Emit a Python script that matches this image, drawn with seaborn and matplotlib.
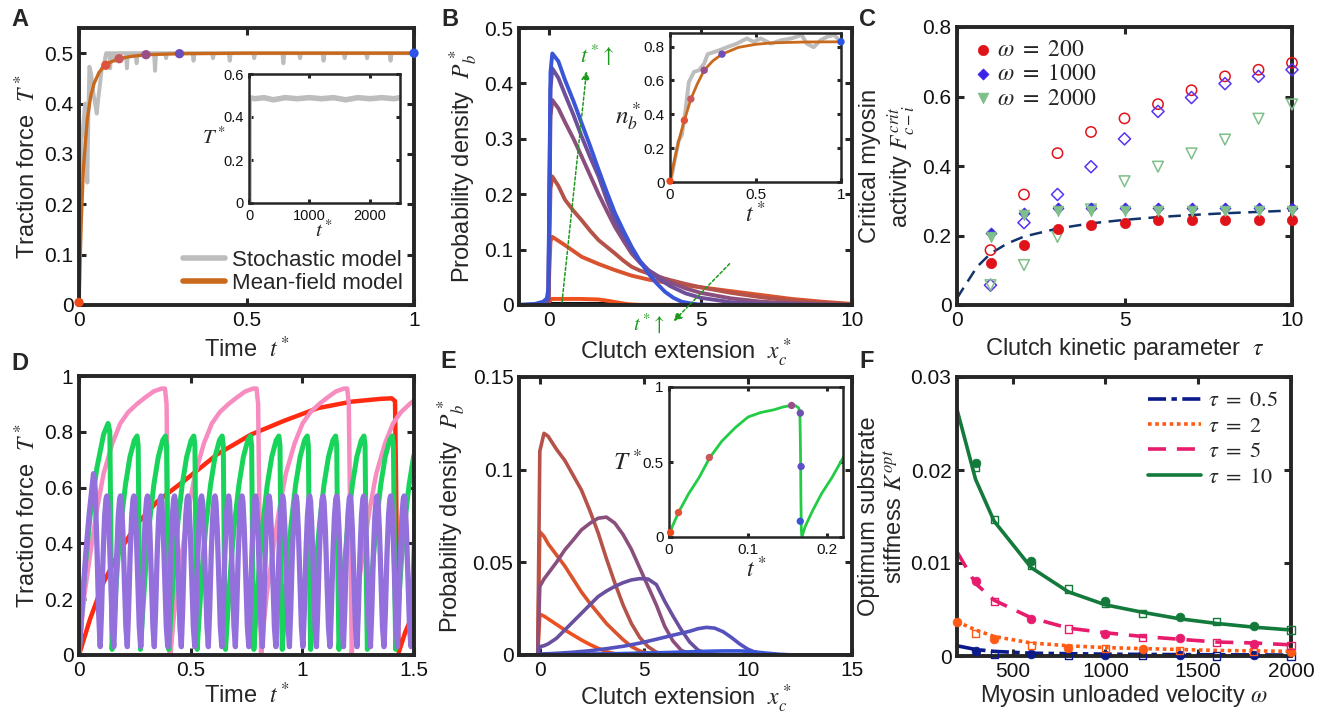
import numpy as np
import pandas as pd
import seaborn as sns
import matplotlib
matplotlib.use("Agg")
import matplotlib.pyplot as plt
from matplotlib.ticker import FuncFormatter

sns.set_theme(style="ticks")
plt.rcParams['font.family'] = ['Liberation Sans', 'DejaVu Sans']
plt.rcParams['mathtext.fontset'] = 'stix'

'''Data read off the figure'''
# A: traction force vs time
a_mf_t = [0, 0.003, 0.007, 0.013, 0.02, 0.025, 0.035, 0.045, 0.06, 0.08, 0.1, 0.12, 0.15, 0.2, 0.3, 0.5, 1.0]
a_mf_T = [0, 0.08, 0.17, 0.27, 0.33, 0.37, 0.415, 0.44, 0.462, 0.478, 0.484, 0.489, 0.493, 0.497, 0.499, 0.5, 0.5]
a_st_t = [0, 0.004, 0.008, 0.013, 0.018, 0.022, 0.025, 0.028, 0.031, 0.036, 0.043, 0.048, 0.053, 0.058, 0.063,
          0.068, 0.073, 0.078, 0.081,
          0.09, 0.093, 0.096, 0.105, 0.108, 0.111,
          0.14, 0.143, 0.146, 0.169, 0.172, 0.175, 0.224, 0.227, 0.23, 0.257, 0.26, 0.263,
          0.339, 0.342, 0.345, 0.397, 0.4, 0.403, 0.447, 0.45, 0.453, 0.52, 0.523, 0.526,
          0.607, 0.61, 0.613, 0.657, 0.66, 0.663, 0.727, 0.73, 0.733, 0.79, 0.793, 0.796,
          0.857, 0.86, 0.863, 0.927, 0.93, 0.933, 1.0]
a_st_T = [0, 0.2, 0.33, 0.36, 0.4, 0.3, 0.243, 0.38, 0.473, 0.46, 0.42, 0.4, 0.38, 0.413, 0.44,
          0.47, 0.473, 0.49, 0.5,
          0.5, 0.47, 0.5, 0.5, 0.485, 0.5,
          0.5, 0.47, 0.5, 0.5, 0.48, 0.5, 0.5, 0.465, 0.5, 0.5, 0.49, 0.5,
          0.5, 0.485, 0.5, 0.5, 0.49, 0.5, 0.5, 0.485, 0.5, 0.5, 0.49, 0.5,
          0.5, 0.48, 0.5, 0.5, 0.49, 0.5, 0.5, 0.485, 0.5, 0.5, 0.49, 0.5,
          0.5, 0.49, 0.5, 0.5, 0.485, 0.5, 0.5]
a_dot_t = [0, 0.08, 0.12, 0.2, 0.3, 1.0]
a_dot_T = [0.005, 0.476, 0.489, 0.497, 0.499, 0.5]
a_in_t = [0, 1, 100, 250, 400, 600, 800, 1000, 1200, 1400, 1600, 1800, 2000, 2200, 2400, 2500]
a_in_T = [0, 0.49, 0.485, 0.49, 0.48, 0.49, 0.485, 0.49, 0.485, 0.49, 0.48, 0.49, 0.485, 0.49, 0.485, 0.49]
dot_colors = ['#f04a1a', '#e0523a', '#c8585a', '#9a4f8a', '#6c4fb8', '#2a55e8']

# B: probability density profiles at increasing time (x, P) per curve
b_curves = [
    ([-1, 0, 0.05, 2.0, 2.5, 10],
     [0, 0, 0.002, 0.002, 0, 0]),
    ([-1, -0.05, 0.0, 0.05, 0.1, 0.5, 1.0, 1.63, 2.0, 2.3, 2.6, 3.0, 10],
     [0, 0, 0.006, 0.01, 0.011, 0.011, 0.011, 0.01, 0.007, 0.004, 0.0015, 0.0003, 0]),
    ([-1, -0.1, -0.03, 0.0, 0.04, 0.1, 0.52, 1.07, 1.63, 2.17, 2.72, 3.27, 4.0, 5, 6, 7, 8, 9, 10],
     [0, 0, 0.003, 0.06, 0.115, 0.123, 0.108, 0.087, 0.074, 0.063, 0.053, 0.046, 0.039, 0.032, 0.025, 0.018, 0.011, 0.006, 0.002]),
    ([-1, -0.1, -0.03, 0.0, 0.04, 0.1, 0.3, 0.52, 0.8, 1.07, 1.35, 1.63, 1.9, 2.17, 2.45, 2.72, 3.0, 3.27, 3.6, 4.0, 4.5, 5, 6, 7, 8, 9, 10],
     [0, 0, 0.005, 0.1, 0.21, 0.232, 0.215, 0.19, 0.17, 0.153, 0.134, 0.117, 0.105, 0.093, 0.08, 0.069, 0.062, 0.057, 0.051, 0.045, 0.038, 0.032, 0.022, 0.014, 0.008, 0.004, 0.001]),
    ([-1, -0.1, -0.03, 0.0, 0.04, 0.1, 0.3, 0.52, 0.8, 1.07, 1.35, 1.63, 1.9, 2.17, 2.45, 2.72, 3.0, 3.27, 3.6, 4.0, 4.5, 5, 6, 7, 8, 9, 10],
     [0, 0, 0.01, 0.15, 0.34, 0.37, 0.355, 0.33, 0.3, 0.268, 0.234, 0.2, 0.17, 0.141, 0.116, 0.093, 0.076, 0.063, 0.052, 0.041, 0.03, 0.022, 0.012, 0.006, 0.003, 0.001, 0]),
    ([-1, -0.1, -0.03, 0.0, 0.04, 0.1, 0.3, 0.52, 0.8, 1.07, 1.35, 1.63, 1.9, 2.17, 2.45, 2.72, 3.0, 3.27, 3.6, 4.0, 4.5, 5, 6, 7, 8, 10],
     [0, 0, 0.01, 0.18, 0.39, 0.427, 0.41, 0.38, 0.343, 0.304, 0.267, 0.232, 0.19, 0.153, 0.125, 0.099, 0.079, 0.063, 0.048, 0.034, 0.021, 0.013, 0.005, 0.002, 0.001, 0]),
    ([-1, -0.47, -0.2, -0.08, -0.03, 0.0, 0.04, 0.1, 0.3, 0.52, 0.8, 1.07, 1.35, 1.63, 1.9, 2.17, 2.45, 2.72, 3.0, 3.27, 3.55, 3.82, 4.1, 4.37, 4.65, 4.92, 5.5, 10],
     [0.0005, 0.002, 0.006, 0.012, 0.03, 0.2, 0.42, 0.454, 0.44, 0.406, 0.368, 0.328, 0.287, 0.244, 0.204, 0.166, 0.134, 0.105, 0.079, 0.057, 0.039, 0.024, 0.013, 0.006, 0.003, 0.001, 0, 0]),
]
b_colors = ['#111111', '#f0501e', '#d9532e', '#b5524a', '#8a4f7d', '#6f4f9a', '#3a55d6']
b_in_mf_t = [0, 0.02, 0.05, 0.084, 0.122, 0.16, 0.2, 0.25, 0.304, 0.4, 0.5, 0.6, 0.8, 1.0]
b_in_mf_n = [0, 0.1, 0.24, 0.364, 0.49, 0.58, 0.66, 0.715, 0.755, 0.795, 0.813, 0.822, 0.827, 0.828]
b_in_st_t = [0, 0.01, 0.03, 0.05, 0.07, 0.09, 0.11, 0.14, 0.17, 0.2, 0.22, 0.25, 0.28, 0.33, 0.39, 0.45,
             0.49, 0.53, 0.59, 0.65, 0.71, 0.77, 0.8, 0.84, 0.88, 0.92, 0.96, 1.0]
b_in_st_n = [0, 0.035, 0.14, 0.24, 0.28, 0.42, 0.59, 0.65, 0.66, 0.70, 0.755, 0.765, 0.775, 0.795, 0.817, 0.848,
             0.827, 0.848, 0.817, 0.837, 0.848, 0.868, 0.817, 0.796, 0.837, 0.858, 0.868, 0.827]
b_in_dot_t = [0, 0.084, 0.122, 0.2, 0.304, 1.0]
b_in_dot_n = [0.005, 0.364, 0.49, 0.66, 0.755, 0.828]

# C: critical myosin activity vs tau
c_tau = [1, 2, 3, 4, 5, 6, 7, 8, 9, 10]
c_w200_full = [0.122, 0.172, 0.22, 0.23, 0.237, 0.246, 0.246, 0.246, 0.246, 0.246]
c_w200_open = [0.158, 0.318, 0.437, 0.498, 0.537, 0.578, 0.618, 0.658, 0.677, 0.697]
c_w1000_full = [0.206, 0.266, 0.278, 0.278, 0.278, 0.278, 0.278, 0.278, 0.278, 0.278]
c_w1000_open = [0.057, 0.237, 0.318, 0.398, 0.478, 0.557, 0.597, 0.637, 0.658, 0.677]
c_w2000_full = [0.196, 0.259, 0.271, 0.271, 0.271, 0.271, 0.271, 0.271, 0.271, 0.271]
c_w2000_open = [0.057, 0.115, 0.196, 0.275, 0.356, 0.398, 0.436, 0.476, 0.536, 0.577]
c_fit_tau = [0, 0.1, 0.3, 0.6, 1, 1.5, 2, 3, 4, 5, 6, 7, 8, 9, 10]
c_fit_F = [0.019, 0.035, 0.065, 0.11, 0.148, 0.177, 0.197, 0.22, 0.235, 0.245, 0.253, 0.259, 0.264, 0.268, 0.272]

# D: oscillating traction force (read cycle shapes and cycle start times)
d_red_t = [0, 0.05, 0.11, 0.18, 0.26, 0.35, 0.48, 0.62, 0.77, 0.92, 1.07, 1.22, 1.35, 1.40, 1.415, 1.42, 1.425, 1.432, 1.46, 1.5]
d_red_T = [0, 0.13, 0.26, 0.37, 0.47, 0.55, 0.63, 0.72, 0.79, 0.84, 0.885, 0.908, 0.918, 0.92, 0.91, 0.6, 0.2, 0.01, 0.08, 0.155]
d_pink_starts = [0, 0.41, 0.816, 1.221]
d_pink_cyc_t = [0, 0.01, 0.025, 0.05, 0.08, 0.11, 0.15, 0.185, 0.22, 0.26, 0.3, 0.335, 0.37, 0.385, 0.392, 0.398, 0.405]
d_pink_cyc_T = [0, 0.1, 0.22, 0.36, 0.52, 0.65, 0.76, 0.83, 0.87, 0.9, 0.925, 0.945, 0.955, 0.955, 0.9, 0.5, 0.01]
d_green_lead_t = [0, 0.02, 0.05, 0.08, 0.11, 0.13, 0.138, 0.143, 0.148]
d_green_lead_T = [0, 0.25, 0.5, 0.67, 0.79, 0.83, 0.8, 0.4, 0.02]
d_green_starts = [0.148, 0.275, 0.402, 0.529, 0.656, 0.783, 0.91, 1.037, 1.164, 1.291, 1.418]
d_green_cyc_t = [0, 0.01, 0.025, 0.04, 0.06, 0.08, 0.1, 0.112, 0.117, 0.122, 0.127]
d_green_cyc_T = [0.02, 0.15, 0.33, 0.47, 0.61, 0.71, 0.77, 0.785, 0.75, 0.3, 0.02]
d_purple_lead_t = [0, 0.015, 0.03, 0.045, 0.058, 0.065, 0.072, 0.08, 0.088, 0.095]
d_purple_lead_T = [0, 0.18, 0.36, 0.5, 0.6, 0.65, 0.6, 0.4, 0.15, 0.03]
d_purple_starts = [0.095, 0.156, 0.216, 0.277, 0.337, 0.398, 0.458, 0.519, 0.579, 0.640, 0.700, 0.761,
                   0.821, 0.882, 0.942, 1.003, 1.063, 1.124, 1.184, 1.245, 1.305, 1.366, 1.426, 1.487]
d_purple_cyc_t = [0, 0.006, 0.013, 0.02, 0.026, 0.03, 0.034, 0.04, 0.047, 0.054, 0.0605]
d_purple_cyc_T = [0.03, 0.16, 0.36, 0.5, 0.56, 0.57, 0.55, 0.45, 0.28, 0.1, 0.03]

# E: probability density during one load-and-fail cycle (x, P) per curve
e_curves = [
    ([-1, -0.1, 0, 0.2, 0.4, 0.8, 1.2, 1.6, 2.0, 2.4, 2.8, 3.2, 3.6, 4.0, 15],
     [0, 0, 0.022, 0.021, 0.0195, 0.0165, 0.0135, 0.0108, 0.0081, 0.0057, 0.0036, 0.0018, 0.0007, 0.0002, 0]),
    ([-1, -0.1, 0, 0.2, 0.4, 0.8, 1.2, 1.6, 2.0, 2.4, 2.8, 3.2, 3.6, 4.0, 4.4, 4.8, 5.2, 5.6, 6.0, 15],
     [0, 0, 0.0665, 0.064, 0.06, 0.054, 0.048, 0.041, 0.034, 0.028, 0.0225, 0.017, 0.0126, 0.0083, 0.0046, 0.0022, 0.0008, 0.0002, 0, 0]),
    ([-1, -0.1, 0, 0.2, 0.4, 0.8, 1.2, 1.6, 2.0, 2.4, 2.8, 3.2, 3.6, 4.0, 4.4, 4.8, 5.2, 5.6, 6.0, 6.4, 15],
     [0, 0, 0.11, 0.1196, 0.118, 0.111, 0.105, 0.097, 0.089, 0.078, 0.066, 0.052, 0.039, 0.027, 0.017, 0.0095, 0.0045, 0.0015, 0.0004, 0, 0]),
    ([-1, -0.1, 0, 0.2, 0.4, 0.8, 1.2, 1.6, 2.0, 2.4, 2.8, 3.2, 3.6, 4.0, 4.4, 4.8, 5.2, 5.6, 6.0, 6.4, 6.8, 7.2, 7.6, 15],
     [0, 0, 0.037, 0.041, 0.044, 0.05, 0.0567, 0.062, 0.0675, 0.071, 0.0738, 0.0744, 0.0712, 0.065, 0.057, 0.047, 0.037, 0.027, 0.0155, 0.0075, 0.0025, 0.0007, 0, 0]),
    ([-1, -0.1, 0, 0.2, 0.4, 0.8, 1.2, 1.6, 2.0, 2.4, 2.8, 3.2, 3.6, 4.0, 4.4, 4.8, 5.2, 5.6, 6.0, 6.4, 6.8, 7.2, 7.6, 8.0, 8.4, 15],
     [0, 0, 0.0045, 0.005, 0.006, 0.009, 0.0135, 0.018, 0.0225, 0.027, 0.0315, 0.0345, 0.037, 0.039, 0.0405, 0.0412, 0.041, 0.038, 0.029, 0.021, 0.0135, 0.007, 0.0027, 0.0008, 0.0002, 0]),
    ([-1, -0.1, 0, 0.8, 1.6, 2.4, 3.2, 4.0, 4.8, 5.6, 6.4, 7.2, 7.6, 8.0, 8.4, 8.8, 9.2, 9.6, 10.0, 10.4, 10.8, 11.5, 15],
     [0, 0, 0.0005, 0.0009, 0.0015, 0.0023, 0.0034, 0.0047, 0.0064, 0.0085, 0.0107, 0.0128, 0.0142, 0.0149, 0.0145, 0.0126, 0.0095, 0.006, 0.0031, 0.0013, 0.0004, 0, 0]),
    ([-1, -0.1, 0, 1.2, 2.4, 3.6, 4.8, 6.0, 7.2, 8.0, 8.8, 9.6, 10.0, 10.4, 10.8, 11.5, 12, 15],
     [0, 0, 0.0002, 0.0004, 0.0005, 0.0007, 0.001, 0.0013, 0.0017, 0.002, 0.0022, 0.0022, 0.002, 0.0016, 0.0011, 0.0004, 0.0001, 0]),
]
e_colors = ['#f0501e', '#d9532e', '#b5524a', '#8a4f7d', '#6a4f9e', '#5552c0', '#3a55d6']
e_in_t = [0, 0.004, 0.0126, 0.025, 0.038, 0.0516, 0.067, 0.084, 0.1, 0.116, 0.1325, 0.145, 0.155, 0.16,
          0.164, 0.1655, 0.1662, 0.1668, 0.1673, 0.168, 0.172, 0.181, 0.193, 0.206, 0.221]
e_in_T = [0, 0.068, 0.17, 0.29, 0.396, 0.53, 0.64, 0.73, 0.8, 0.83, 0.848, 0.868, 0.877, 0.875,
          0.86, 0.83, 0.6, 0.25, 0.05, 0.0, 0.068, 0.17, 0.29, 0.396, 0.536]
e_in_dot_t = [0.002, 0.012, 0.051, 0.155, 0.166, 0.167, 0.166]
e_in_dot_T = [0.03, 0.163, 0.53, 0.877, 0.826, 0.47, 0.105]
e_in_dot_c = ['#f04a1a', '#e0523a', '#c8585a', '#9a4f8a', '#7050b0', '#5a50c8', '#3a55d6']

# F: optimum substrate stiffness vs myosin velocity
f_w = [200, 300, 400, 600, 800, 1000, 1200, 1400, 1600, 1800, 2000]
f_tau05 = [0.0011, 0.0007, 0.0005, 0.0003, 0.00025, 0.0002, 0.00017, 0.00015, 0.00013, 0.00012, 0.0001]
f_tau2 = [0.0037, 0.0028, 0.0021, 0.0014, 0.0011, 0.0009, 0.0008, 0.0007, 0.0006, 0.00055, 0.0005]
f_tau5 = [0.0112, 0.0078, 0.006, 0.0041, 0.003, 0.0025, 0.0021, 0.0018, 0.0015, 0.0014, 0.0012]
f_tau10 = [0.0265, 0.019, 0.0145, 0.0095, 0.0069, 0.0055, 0.0047, 0.004, 0.0035, 0.0031, 0.0028]
f_full_w = {"t05": [300, 600, 1000, 1400, 1800], "t2": [200, 400, 800, 1200, 2000],
            "t5": [300, 600, 1000, 1400, 1800], "t10": [300, 600, 1000, 1400, 1800]}
f_full_K = {"t05": [0.0005, 0.0002, 0.0001, 0.0001, 0.0001], "t2": [0.0037, 0.0018, 0.0009, 0.0007, 0.0004],
            "t5": [0.0081, 0.004, 0.0024, 0.0019, 0.0013], "t10": [0.0208, 0.0102, 0.0059, 0.0042, 0.0032]}
f_open_w = {"t05": [400, 800, 1200, 1600, 2000], "t2": [300, 600, 1000, 1400, 1800],
            "t5": [400, 800, 1200, 1600, 2000], "t10": [300, 400, 600, 800, 1000, 1200, 1600, 2000]}
f_open_K = {"t05": [0.0002, 0.0001, 0.0001, 0.0, 0.0], "t2": [0.0024, 0.0011, 0.0008, 0.0006, 0.0005],
            "t5": [0.0059, 0.0029, 0.002, 0.0015, 0.0011],
            "t10": [0.0203, 0.0147, 0.0097, 0.0072, 0.0056, 0.0046, 0.0037, 0.0028]}
f_colors = {"t05": '#0b1a8a', "t2": '#ff5b14', "t5": '#e81c6c', "t10": '#137a3c'}


'''Helpers'''
W, H = 1325, 715
fig = plt.figure(figsize=(W / 100, H / 100), dpi=100)
fmt = FuncFormatter(lambda v, p: f"{v:g}")
TICK = 15
LAB = 17
XPAD = 5
XPAD_LOW = 2


def add_ax(l, t, r, b):
    return fig.add_axes([l / W, 1 - b / H, (r - l) / W, (b - t) / H])


def style(ax, size=TICK, lw=2.8, tl=5):
    for s in ax.spines.values():
        s.set_linewidth(lw)
        s.set_color('#262626')
    ax.tick_params(direction='in', top=True, right=True, length=tl, width=2.2,
                   labelsize=size, pad=4, color='#262626', labelcolor='#111111')
    ax.xaxis.set_major_formatter(fmt)
    ax.yaxis.set_major_formatter(fmt)


def tile(starts, cyc_t, cyc_T, lead_t=(), lead_T=()):
    ts, Ts = list(lead_t), list(lead_T)
    for s in starts:
        ts += [s + r for r in cyc_t]
        Ts += list(cyc_T)
    return ts, Ts


def line(ax, x, y, **kw):
    sns.lineplot(x=x, y=y, ax=ax, estimator=None, sort=False, **kw)


def curves_df(curves):
    return pd.concat([pd.DataFrame({"x": x, "p": p, "k": i}) for i, (x, p) in enumerate(curves)])


'''Panel A'''
ax = add_ax(79, 28, 414, 305)
line(ax, a_st_t, a_st_T, color='#bdbdbd', lw=2.8, label='Stochastic model')
line(ax, a_mf_t, a_mf_T, color='#c8691c', lw=2.4, label='Mean-field model')
sns.scatterplot(x=a_dot_t, y=a_dot_T, ax=ax, hue=list(range(6)), palette=dot_colors,
                s=45, edgecolor='none', legend=False, zorder=5, clip_on=False)
ax.set_xlim(0, 1)
ax.set_ylim(0, 0.55)
ax.set_xticks([0, 0.5, 1])
ax.set_yticks([0, 0.1, 0.2, 0.3, 0.4, 0.5])
ax.set_xlabel(r'Time  $t^*$', fontsize=LAB, labelpad=XPAD)
ax.set_ylabel(r'Traction force  $T^*$', fontsize=LAB, labelpad=3)
style(ax)
leg = ax.legend(loc='lower right', frameon=False, fontsize=16, handlelength=1.9,
                handletextpad=0.3, borderaxespad=0.1, labelspacing=0.1)
for h in leg.get_lines():
    h.set_linewidth(4)

ai = add_ax(249, 74, 400, 203)
line(ai, a_in_t, a_in_T, color='#bdbdbd', lw=4)
ai.set_xlim(0, 2500)
ai.set_ylim(0, 0.6)
ai.set_xticks([0, 1000, 2000])
ai.set_yticks([0, 0.2, 0.4, 0.6])
ai.set_xlabel(r'$t^*$', fontsize=15, labelpad=-2)
ai.set_ylabel(r'$T^*$', fontsize=15, rotation=0, ha='right', va='center')
ai.yaxis.set_label_coords(-0.15, 0.51)
style(ai, size=10.5, lw=1.8, tl=3)

'''Panel B'''
ax = add_ax(519, 28, 852, 305)
sns.lineplot(data=curves_df(b_curves), x="x", y="p", hue="k", palette=b_colors, lw=2.8, ax=ax,
             estimator=None, sort=False, legend=False)
ax.set_xlim(-1, 10)
ax.set_ylim(0, 0.5)
ax.set_xticks([0, 5, 10])
ax.set_yticks([0, 0.1, 0.2, 0.3, 0.4, 0.5])
ax.set_xlabel(r'Clutch extension  $x_c^*$', fontsize=LAB, labelpad=XPAD)
ax.set_ylabel(r'Probability density  $P_b^*$', fontsize=LAB, labelpad=3)
style(ax)
green = '#1d9a1d'
arr = dict(arrowstyle='-|>', color=green, lw=1.1, linestyle=(0, (2, 1.5)), mutation_scale=12)
ax.annotate('', xy=(1.24, 0.427), xytext=(0.41, 0.0), arrowprops=arr, annotation_clip=False)
ax.annotate('', xy=(4.04, -0.033), xytext=(6.02, 0.078), arrowprops=arr, annotation_clip=False)
ax.text(1.57, 0.451, r'$t^*\!\uparrow$', color=green, fontsize=16, ha='center', va='center')
ax.text(3.3, -0.033, r'$t^*\!\uparrow$', color=green, fontsize=15, ha='center', va='center', clip_on=False)

bi = add_ax(670, 33, 841, 182)
line(bi, b_in_st_t, b_in_st_n, color='#bdbdbd', lw=2.8)
line(bi, b_in_mf_t, b_in_mf_n, color='#c8691c', lw=2)
sns.scatterplot(x=b_in_dot_t, y=b_in_dot_n, ax=bi, hue=list(range(6)), palette=dot_colors,
                s=28, edgecolor='none', legend=False, zorder=5, clip_on=False)
bi.set_xlim(0, 1)
bi.set_ylim(0, 0.88)
bi.set_xticks([0, 0.5, 1])
bi.set_yticks([0, 0.2, 0.4, 0.6, 0.8])
bi.set_xlabel(r'$t^*$', fontsize=17, labelpad=0)
bi.set_ylabel(r'$n_b^*$', fontsize=18, rotation=0, ha='right', va='center')
bi.yaxis.set_label_coords(-0.17, 0.44)
style(bi, size=11, lw=1.8, tl=3)

'''Panel C'''
ax = add_ax(957, 27, 1292, 305)
red, blue, grn = '#e0131b', '#5a33f0', '#7fbf8a'
line(ax, c_fit_tau, c_fit_F, color='#12336b', lw=1.8, linestyle=(0, (5, 3)))
for yv, c, m, s in [(c_w200_open, red, 'o', 55), (c_w1000_open, blue, 'D', 38), (c_w2000_open, grn, 'v', 60)]:
    sns.scatterplot(x=c_tau, y=yv, ax=ax, color=c, marker=m, s=s, facecolors='none',
                    edgecolor=c, linewidth=1.1, zorder=4, clip_on=False)
for yv, c, m, s, lab in [(c_w200_full, red, 'o', 55, r'$\omega\ =\ 200$'),
                         (c_w1000_full, '#3b22e8', 'D', 32, r'$\omega\ =\ 1000$'),
                         (c_w2000_full, grn, 'v', 60, r'$\omega\ =\ 2000$')]:
    sns.scatterplot(x=c_tau, y=yv, ax=ax, color=c, marker=m, s=s, edgecolor=c,
                    linewidth=0.5, zorder=5, clip_on=False, label=lab)
ax.set_xlim(0, 10)
ax.set_ylim(0, 0.8)
ax.set_xticks([0, 5, 10])
ax.set_yticks([0, 0.2, 0.4, 0.6, 0.8])
ax.set_xlabel(r'Clutch kinetic parameter  $\tau$', fontsize=LAB, labelpad=XPAD)
ax.set_ylabel('Critical myosin\n' + r'activity $F_{c-i}^{crit}$', fontsize=LAB, labelpad=3)
style(ax)
ax.legend(loc='upper left', frameon=False, fontsize=17, handletextpad=0.0, labelspacing=0.1,
          borderaxespad=0.2, handlelength=1.2, borderpad=0.3)

'''Panel D'''
ax = add_ax(79, 376, 414, 655)
pk_t, pk_T = tile(d_pink_starts, d_pink_cyc_t, d_pink_cyc_T)
gr_t, gr_T = tile(d_green_starts, d_green_cyc_t, d_green_cyc_T, d_green_lead_t, d_green_lead_T)
pu_t, pu_T = tile(d_purple_starts, d_purple_cyc_t, d_purple_cyc_T, d_purple_lead_t, d_purple_lead_T)
line(ax, d_red_t, d_red_T, color='#ff2a10', lw=3.2)
line(ax, pk_t, pk_T, color='#f78cc0', lw=3.2)
line(ax, gr_t, gr_T, color='#19d45a', lw=3.6)
line(ax, pu_t, pu_T, color='#9370db', lw=3.8)
ax.set_xlim(0, 1.5)
ax.set_ylim(0, 1)
ax.set_xticks([0, 0.5, 1, 1.5])
ax.set_yticks([0, 0.2, 0.4, 0.6, 0.8, 1])
ax.set_xlabel(r'Time  $t^*$', fontsize=LAB, labelpad=XPAD_LOW)
ax.set_ylabel(r'Traction force  $T^*$', fontsize=LAB, labelpad=3)
style(ax)

'''Panel E'''
ax = add_ax(519, 377, 852, 655)
sns.lineplot(data=curves_df(e_curves), x="x", y="p", hue="k", palette=e_colors, lw=2.6, ax=ax,
             estimator=None, sort=False, legend=False)
ax.set_xlim(-1, 15)
ax.set_ylim(0, 0.15)
ax.set_xticks([0, 5, 10, 15])
ax.set_yticks([0, 0.05, 0.1, 0.15])
ax.set_xlabel(r'Clutch extension  $x_c^*$', fontsize=LAB, labelpad=XPAD_LOW)
ax.set_ylabel(r'Probability density  $P_b^*$', fontsize=LAB, labelpad=3)
style(ax)

ei = add_ax(669, 387, 843, 537)
line(ei, e_in_t, e_in_T, color='#22cc44', lw=2)
sns.scatterplot(x=e_in_dot_t, y=e_in_dot_T, ax=ei, hue=list(range(7)), palette=e_in_dot_c,
                s=28, edgecolor='none', legend=False, zorder=5, clip_on=False)
ei.set_xlim(0, 0.22)
ei.set_ylim(0, 1)
ei.set_xticks([0, 0.1, 0.2])
ei.set_yticks([0, 0.5, 1])
ei.set_xlabel(r'$t^*$', fontsize=17, labelpad=0)
ei.set_ylabel(r'$T^*$', fontsize=18, rotation=0, ha='right', va='center')
ei.yaxis.set_label_coords(-0.16, 0.5)
style(ei, size=11, lw=1.8, tl=3)

'''Panel F'''
ax = add_ax(957, 377, 1291, 656)
styles = {"t05": (0, (5, 1.5, 1.5, 1.5)), "t2": (0, (1, 1)), "t5": (0, (5, 3)), "t10": '-'}
labels = {"t05": r'$\tau\ =\ 0.5$', "t2": r'$\tau\ =\ 2$', "t5": r'$\tau\ =\ 5$', "t10": r'$\tau\ =\ 10$'}
for k, yv in [("t05", f_tau05), ("t2", f_tau2), ("t5", f_tau5), ("t10", f_tau10)]:
    line(ax, f_w, yv, color=f_colors[k], lw=2.6, linestyle=styles[k], label=labels[k])
for k in f_colors:
    sns.scatterplot(x=f_full_w[k], y=f_full_K[k], ax=ax, color=f_colors[k], marker='o', s=40,
                    edgecolor=f_colors[k], linewidth=0.5, zorder=5, clip_on=False)
    sns.scatterplot(x=f_open_w[k], y=f_open_K[k], ax=ax, color=f_colors[k], marker='s', s=26,
                    facecolors='none', edgecolor=f_colors[k], linewidth=1.0, zorder=5, clip_on=False)
ax.set_xlim(200, 2000)
ax.set_ylim(0, 0.03)
ax.set_xticks([500, 1000, 1500, 2000])
ax.set_yticks([0, 0.01, 0.02, 0.03])
ax.set_xlabel(r'Myosin unloaded velocity $\omega$', fontsize=LAB, labelpad=XPAD_LOW)
ax.set_ylabel('Optimum substrate\n' + r'stiffness $K^{opt}$', fontsize=LAB, labelpad=3)
style(ax)
ax.legend(loc='upper right', frameon=False, fontsize=16, handlelength=2.4, handletextpad=0.3,
          labelspacing=0.2, borderaxespad=0.2)

'''Panel letters'''
for lab, x, y in [('A', 20, 20), ('B', 450, 19), ('C', 868, 20),
                  ('D', 20, 364), ('E', 448, 362), ('F', 867, 362)]:
    fig.text(x / W, 1 - y / H, lab, fontsize=17, fontweight='bold', ha='center', va='center')

fig.savefig("out.png", dpi=100)
